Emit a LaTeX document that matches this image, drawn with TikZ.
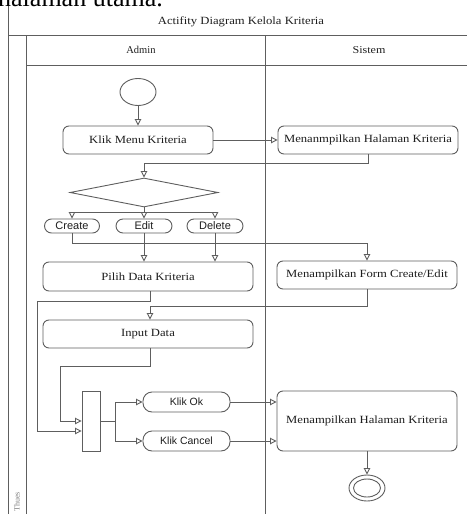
\documentclass[tikz,border=0pt]{standalone}
\usepackage{fontspec}
\setmainfont{Liberation Serif}
\setsansfont{Liberation Sans}
\newfontfamily\widerm[FakeStretch=1.15]{Liberation Serif}
\usetikzlibrary{arrows.meta,shapes.geometric,calc}
\definecolor{ln}{HTML}{5E5E5E}
\definecolor{tx}{HTML}{1E1E1E}
\tikzset{
  every node/.style={text=tx},
  edge/.style={draw=ln, line width=0.9pt},
  flow/.style={edge, -{Triangle[open, length=6.5pt, width=6.5pt, fill=white]}},
  act/.style={draw=ln, line width=0.9pt, rounded corners=6pt, fill=white,
    font=\widerm\fontsize{11}{13}\selectfont, inner sep=0pt},
  opt/.style={draw=ln, line width=0.9pt, rounded corners=7pt, fill=white,
    font=\sffamily\fontsize{11}{13}\selectfont, inner sep=0pt, minimum height=14pt},
  btn/.style={draw=ln, line width=0.9pt, rounded corners=9pt, fill=white,
    font=\sffamily\fontsize{10.5}{12}\selectfont, inner sep=0pt, minimum width=87pt, minimum height=20pt},
  lane/.style={draw=ln, line width=1pt},
}
\begin{document}
\begin{tikzpicture}[x=1pt,y=-1pt]
\useasboundingbox (0,0) rectangle (467,514);
\clip (0,0) rectangle (467,514);

% page text running above the diagram
\node[anchor=base west, inner sep=0pt, font=\fontsize{26}{28}\selectfont, text=black] (pagetext) at (-2,6) {halaman utama.};

% swimlane frame
\draw[lane] (8,6) -- (8,514);
\draw[lane] (8,35) -- (467,35);
\draw[lane] (26,35) -- (26,514);
\draw[lane] (26,65) -- (467,65);
\draw[lane] (265,35) -- (265,514);
\node[font=\widerm\fontsize{11}{13}\selectfont] (title) at (241,22) {Actifity Diagram Kelola Kriteria};
\node[font=\fontsize{10.5}{12}\selectfont] (admin) at (141,50) {Admin};
\node[font=\widerm\fontsize{10.5}{12}\selectfont] (sistem) at (369,50) {Sistem};
\node[rotate=90, font=\fontsize{8}{9}\selectfont, text=gray] (lbl) at (17,502) {Thues};

% activity nodes
\node[ellipse, draw=ln, line width=0.9pt, minimum width=36pt, minimum height=27pt, inner sep=0pt] (start) at (138,92) {};
\node[act, minimum width=150pt, minimum height=28pt] (klik) at (138,140) {Klik Menu Kriteria};
\node[act, minimum width=180pt, minimum height=28pt] (hal1) at (368,140) {Menanmpilkan Halaman Kriteria};
\node[diamond, draw=ln, line width=0.9pt, aspect=5.1, minimum width=148pt, minimum height=29pt, inner sep=0pt] (dec) at (144,192.5) {};
\node[opt, minimum width=55pt] (create) at (72,226) {Create};
\node[opt, minimum width=56pt] (edit) at (144,226) {Edit};
\node[opt, minimum width=56pt] (delete) at (215,226) {Delete};
\node[act, minimum width=210pt, minimum height=29pt] (pilih) at (148,276.5) {Pilih Data Kriteria};
\node[act, minimum width=180pt, minimum height=28pt] (form) at (367,275) {Menampilkan Form Create/Edit};
\node[act, minimum width=210pt, minimum height=28pt] (input) at (148,334) {Input Data};
\node[draw=ln, line width=0.9pt, minimum width=18pt, minimum height=60pt, inner sep=0pt] (bar) at (91,421) {};
\node[btn] (ok) at (186.5,402) {Klik Ok};
\node[btn] (cancel) at (186.5,441) {Klik Cancel};
\node[act, minimum width=180pt, minimum height=60pt] (hal2) at (367,421) {Menampilkan Halaman Kriteria};
\node[ellipse, draw=ln, line width=0.9pt, minimum width=36pt, minimum height=26pt, inner sep=0pt] (end) at (367,488) {};
\node[ellipse, draw=ln, line width=0.9pt, minimum width=27pt, minimum height=18pt, inner sep=0pt] (endin) at (367,488) {};

% connectors
\draw[flow] (start) -- (klik);
\draw[flow] (klik.east) -- (hal1.west);
\draw[flow] (hal1.south) -- ++(0,9) -| (dec.north);

\coordinate (sp) at (144,212);
\draw[edge] (dec.south) -- (sp);
\draw[edge] (create.north |- sp) -- (delete.north |- sp);
\draw[flow] (create.north |- sp) -- (create.north);
\draw[flow] (sp) -- (edit.north);
\draw[flow] (delete.north |- sp) -- (delete.north);

\draw[flow] (create.south) -- ++(0,10) -| (form.north);
\draw[flow] (edit.south) -- (edit.south |- pilih.north);
\draw[flow] (delete.south) -- (delete.south |- pilih.north);

\draw[flow] (form.south) -- ++(0,17) -| ([xshift=2pt]input.north);

\draw[flow] ([xshift=2pt]pilih.south) -- ++(0,10) -| (37,431) -- (bar.west |- 0,431);
\draw[flow] ([xshift=2pt]input.south) -- ++(0,18) -| (60,421) -- (bar.west |- 0,421);

\coordinate (fk) at (115,421);
\draw[edge] (bar.east |- fk) -- (fk);
\draw[edge] (fk |- ok.west) -- (fk |- cancel.west);
\draw[flow] (fk |- ok.west) -- (ok.west);
\draw[flow] (fk |- cancel.west) -- (cancel.west);
\draw[flow] (ok.east) -- (hal2.west |- ok.east);
\draw[flow] (cancel.east) -- (hal2.west |- cancel.east);
\draw[flow] (hal2.south) -- (end.north);
\end{tikzpicture}
\end{document}
